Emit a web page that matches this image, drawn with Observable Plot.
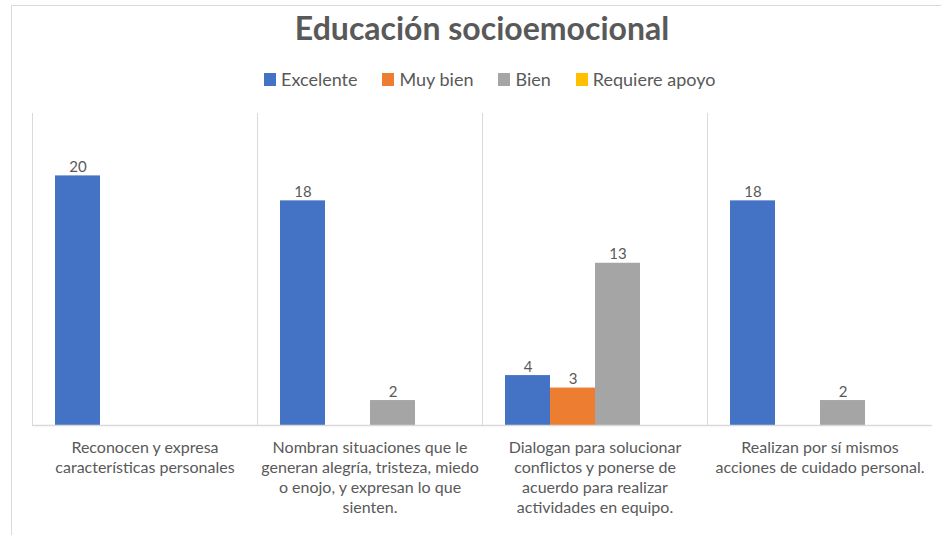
<!DOCTYPE html>
<html>
<head>
<meta charset="utf-8">
<script src="https://cdn.jsdelivr.net/npm/d3@7"></script>
<script src="https://cdn.jsdelivr.net/npm/@observablehq/plot@0.6"></script>
<style>
  html, body { margin: 0; padding: 0; background: #fff; }
  body { width: 941px; height: 535px; position: relative; overflow: hidden; font-family: Lato, "Open Sans", sans-serif; color: #595959; }
  #border { position: absolute; left: 11px; top: 5px; width: 940px; height: 540px; border-left: 1px solid #d9d9d9; border-top: 1px solid #d9d9d9; }
  #title { position: absolute; left: 32px; width: 900px; top: 8px; height: 40px; line-height: 40px; text-align: center; font-weight: 700; font-size: 32px; color: #595959; }
  #legend { position: absolute; left: 264px; top: 69px; height: 20px; display: flex; align-items: center; font-size: 18px; color: #595959; white-space: nowrap; }
  #legend .item { display: flex; align-items: center; margin-right: 25px; }
  #legend .sw { width: 12px; height: 13px; margin-right: 5px; }
  #chart { position: absolute; left: 0; top: 100px; }
</style>
</head>
<body>
<div id="border"></div>
<div id="title">Educación socioemocional</div>
<div id="legend"></div>
<div id="chart"></div>
<script>
const categories = [
  "Reconocen y expresa características personales",
  "Nombran situaciones que le generan alegría, tristeza, miedo o enojo, y expresan lo que sienten.",
  "Dialogan para solucionar conflictos y ponerse de acuerdo para realizar actividades en equipo.",
  "Realizan por sí mismos acciones de cuidado personal."
];
const categoryTickLabels = [
  "Reconocen y expresa\ncaracterísticas personales",
  "Nombran situaciones que le\ngeneran alegría, tristeza, miedo\no enojo, y expresan lo que\nsienten.",
  "Dialogan para solucionar\nconflictos y ponerse de\nacuerdo para realizar\nactividades en equipo.",
  "Realizan por sí mismos\nacciones de cuidado personal."
];
const series = ["Excelente", "Muy bien", "Bien", "Requiere apoyo"];
const seriesColors = ["#4472C4", "#ED7D31", "#A5A5A5", "#FFC000"];
const excelente = [20, 18, 4, 18];
const muyBien = [null, null, 3, null];
const bien = [null, 2, 13, 2];
const requiereApoyo = [null, null, null, null];

const seriesValues = [excelente, muyBien, bien, requiereApoyo];
const data = [];
categories.forEach((c, i) => {
  series.forEach((s, j) => {
    const v = seriesValues[j][i];
    if (v != null) data.push({category: c, series: s, value: v});
  });
});
const tickLabelOf = new Map(categories.map((c, i) => [c, categoryTickLabels[i]]));

// legend
const legend = document.getElementById("legend");
series.forEach((s, j) => {
  const item = document.createElement("div");
  item.className = "item";
  const sw = document.createElement("div");
  sw.className = "sw";
  sw.style.background = seriesColors[j];
  const t = document.createElement("span");
  t.textContent = s;
  item.appendChild(sw);
  item.appendChild(t);
  legend.appendChild(item);
});

const chart = Plot.plot({
  width: 941,
  height: 435,
  marginLeft: 32,
  marginRight: 9,
  marginTop: 13,
  marginBottom: 110,
  style: {fontFamily: "Lato, 'Open Sans', sans-serif", color: "#595959", background: "transparent"},
  fx: {domain: categories, padding: 0, label: null},
  x: {domain: series, paddingInner: 0, paddingOuter: 0.5, axis: null},
  y: {domain: [0, 25], axis: null},
  color: {domain: series, range: seriesColors},
  marks: [
    Plot.frame({anchor: "left", stroke: "#d9d9d9", strokeOpacity: 1}),
    Plot.barY(data, {fx: "category", x: "series", y: "value", fill: "series"}),
    Plot.ruleY([0], {stroke: "#d9d9d9", strokeWidth: 1.5}),
    Plot.text(data, {fx: "category", x: "series", y: "value", text: d => String(d.value), lineAnchor: "bottom", dy: -4, fill: "#595959", fontSize: 15}),
    Plot.axisFx({anchor: "bottom", tickSize: 0, tickPadding: 13, label: null, fontSize: 16, lineHeight: 1.25, fill: "#595959", tickFormat: d => tickLabelOf.get(d)})
  ]
});
document.getElementById("chart").appendChild(chart);
</script>
</body>
</html>
